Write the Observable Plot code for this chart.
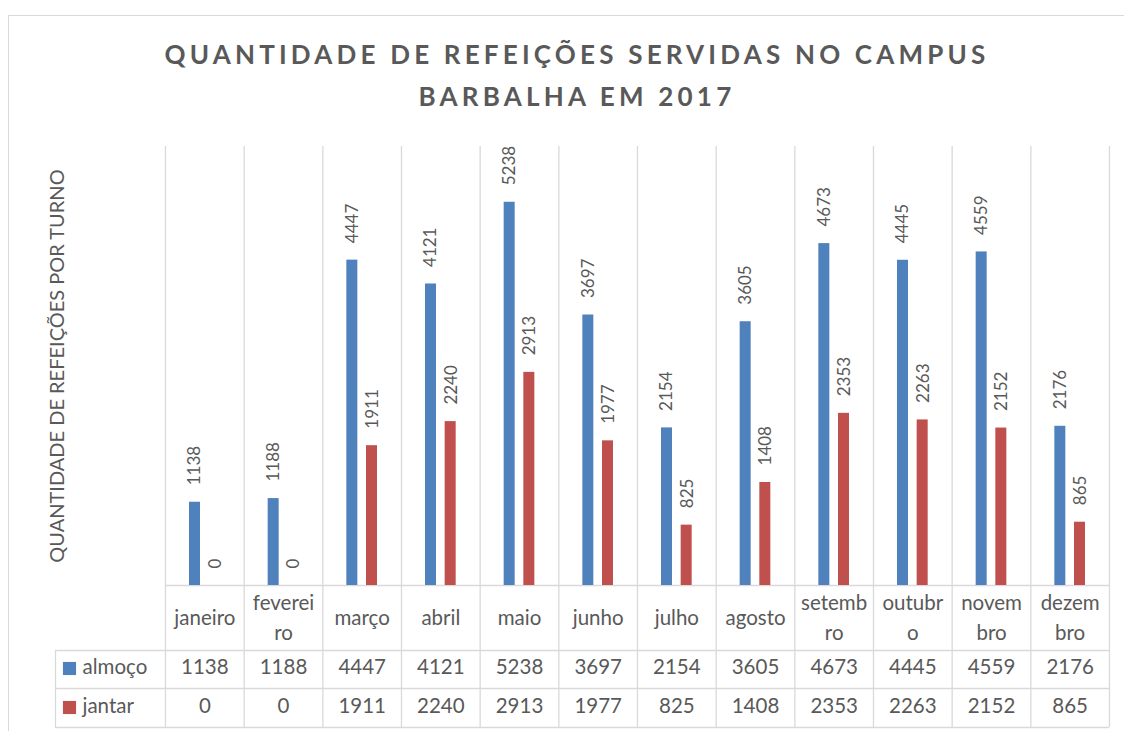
<!DOCTYPE html>
<html>
<head>
<meta charset="utf-8">
<script src="https://cdn.jsdelivr.net/npm/d3@7"></script>
<script src="https://cdn.jsdelivr.net/npm/@observablehq/plot@0.6"></script>
<style>
  body { margin: 0; background: #fff; }
  #wrap { position: relative; width: 1124px; height: 731px; overflow: hidden; background: #fff; }
  #frame { position: absolute; left: 8px; top: 15px; width: 1140px; height: 800px; border: 1px solid #d9d9d9; box-sizing: border-box; }
  #title { position: absolute; left: 0; top: 33px; width: 1154px; text-align: center; font-family: Lato, sans-serif; font-weight: bold; font-size: 26px; line-height: 42px; letter-spacing: 4.2px; color: #595959; }
  #chart { position: absolute; left: 0; top: 0; }
</style>
</head>
<body>
<div id="wrap">
  <div id="frame"></div>
  <div id="chart"></div>
  <div id="title">QUANTIDADE DE REFEIÇÕES SERVIDAS NO CAMPUS<br>BARBALHA EM 2017</div>
</div>
<script>
const months = ["janeiro","fevereiro","março","abril","maio","junho","julho","agosto","setembro","outubro","novembro","dezembro"];
const monthLabels = ["janeiro","feverei\nro","março","abril","maio","junho","julho","agosto","setemb\nro","outubr\no","novem\nbro","dezem\nbro"];
const almoco = [1138,1188,4447,4121,5238,3697,2154,3605,4673,4445,4559,2176];
const jantar = [0,0,1911,2240,2913,1977,825,1408,2353,2263,2152,865];
const seriesNames = ["almoço","jantar"];
const seriesColors = ["#4f81bd","#c0504d"];
const yTitle = "QUANTIDADE DE REFEIÇÕES POR TURNO";

const data = months.map((m, i) => ({month: m, label: monthLabels[i], almoco: almoco[i], jantar: jantar[i]}));

const W = 1124, H = 731, mL = 165, mR = 15, mT = 146, mB = 146;
const colW = (W - mL - mR) / months.length;
const grid = "#d9d9d9";
const txt = "#595959";
const font = "Lato, sans-serif";

const chart = Plot.plot({
  width: W, height: H,
  marginLeft: mL, marginRight: mR, marginTop: mT, marginBottom: mB,
  x: {domain: months, padding: 0, round: false, axis: null},
  y: {domain: [0, 6000], axis: null},
  style: {fontFamily: font, background: "transparent", overflow: "visible", color: txt},
  marks: [
    // column gridlines
    Plot.ruleX(months, {x: d => d, dx: -colW / 2, stroke: grid, strokeWidth: 1.3, insetBottom: -142}),
    Plot.ruleX([months[months.length - 1]], {x: d => d, dx: colW / 2, stroke: grid, strokeWidth: 1.3, insetBottom: -142}),
    // legend column left border
    Plot.ruleX([months[0]], {x: d => d, dx: -colW / 2 - 110, stroke: grid, strokeWidth: 1.3, insetTop: 504, insetBottom: -142}),
    // baseline and table rows
    Plot.ruleY([0], {stroke: grid, strokeWidth: 1.3}),
    Plot.ruleY([0], {dy: 65, insetLeft: -110, stroke: grid, strokeWidth: 1.3}),
    Plot.ruleY([0], {dy: 103, insetLeft: -110, stroke: grid, strokeWidth: 1.3}),
    Plot.ruleY([0], {dy: 142, insetLeft: -110, stroke: grid, strokeWidth: 1.3}),
    // bars
    Plot.barY(data, {x: "month", y: "almoco", fill: seriesColors[0], insetLeft: 24, insetRight: colW - 24 - 11}),
    Plot.barY(data, {x: "month", y: "jantar", fill: seriesColors[1], insetLeft: colW - 24 - 11, insetRight: 24}),
    // bar labels
    Plot.text(data, {x: "month", y: "almoco", text: d => String(d.almoco), rotate: -90, textAnchor: "start", lineAnchor: "middle", dx: -10, dy: -17, fontSize: 17, fill: txt}),
    Plot.text(data, {x: "month", y: "jantar", text: d => String(d.jantar), rotate: -90, textAnchor: "start", lineAnchor: "middle", dx: 10.5, dy: -17, fontSize: 17, fill: txt}),
    // category row
    Plot.text(data, {x: "month", text: "label", frameAnchor: "bottom", lineAnchor: "middle", dy: 30, lineHeight: 1.45, fontSize: 20.5, fill: txt}),
    // value rows
    Plot.text(data, {x: "month", text: d => String(d.almoco), frameAnchor: "bottom", lineAnchor: "middle", dy: 82, fontSize: 20.5, fill: txt}),
    Plot.text(data, {x: "month", text: d => String(d.jantar), frameAnchor: "bottom", lineAnchor: "middle", dy: 121, fontSize: 20.5, fill: txt}),
    // legend keys
    Plot.dot([seriesNames[0]], {frameAnchor: "bottom-left", dx: -96, dy: 83, symbol: "square", r: 7.4, fill: seriesColors[0], stroke: "none"}),
    Plot.dot([seriesNames[1]], {frameAnchor: "bottom-left", dx: -96, dy: 122, symbol: "square", r: 7.4, fill: seriesColors[1], stroke: "none"}),
    Plot.text([seriesNames[0]], {frameAnchor: "bottom-left", text: d => d, textAnchor: "start", lineAnchor: "middle", dx: -83, dy: 82, fontSize: 20.5, fill: txt}),
    Plot.text([seriesNames[1]], {frameAnchor: "bottom-left", text: d => d, textAnchor: "start", lineAnchor: "middle", dx: -83, dy: 121, fontSize: 20.5, fill: txt}),
    // y axis title
    Plot.text([yTitle], {frameAnchor: "left", text: d => d, rotate: -90, textAnchor: "middle", lineAnchor: "middle", dx: -108, fontSize: 20, fill: txt})
  ]
});
document.getElementById("chart").appendChild(chart);
</script>
</body>
</html>
